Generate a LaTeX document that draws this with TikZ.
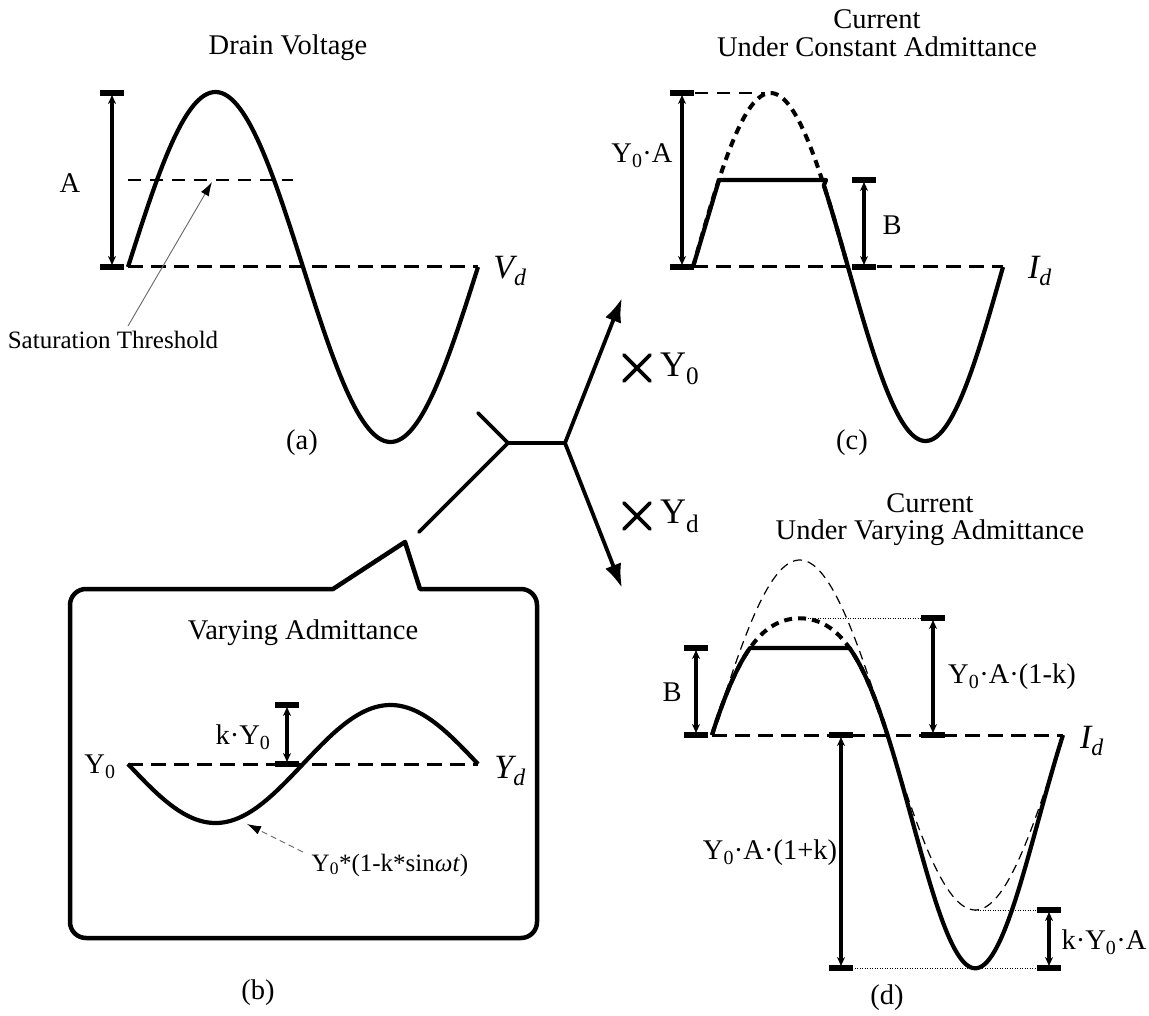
\documentclass[tikz,border=0pt]{standalone}
\usepackage{fontspec}
\setmainfont{Liberation Serif}
\usetikzlibrary{arrows.meta}
\tikzset{
 curve/.style={line width=4.2pt, line join=round},
 axisline/.style={line width=3pt, dash pattern=on 15pt off 8pt},
 thresh/.style={line width=1.2pt, dash pattern=on 13pt off 9pt},
 capline/.style={line width=5.5pt},
 dimline/.style={line width=3.6pt, {Stealth[length=9pt,width=8pt]}-{Stealth[length=9pt,width=8pt]}},
 thickdot/.style={line width=4pt, dash pattern=on 8pt off 6pt},
 thindash/.style={line width=1.2pt, dash pattern=on 9pt off 6pt},
 guide/.style={line width=1pt, dash pattern=on 1pt off 1.5pt},
 lab/.style={font=\fontsize{28.5}{30}\selectfont, inner sep=0pt},
 small/.style={font=\fontsize{25}{27}\selectfont, inner sep=0pt},
 axlab/.style={font=\fontsize{34}{36}\selectfont\itshape, inner sep=0pt},
 bigy/.style={font=\fontsize{36}{38}\selectfont, inner sep=0pt},
 flow/.style={line width=3.8pt, -{Latex[length=24pt,width=17pt]}},
 flowplain/.style={line width=3.8pt, line cap=round},
 cross/.style={line width=3.8pt, line cap=round},
 pointer/.style={line width=0.9pt, draw=black!60, -{Latex[length=14pt,width=9pt,black]}},
 box/.style={line width=4.5pt, line join=round},
}
\newcommand{\mydim}[3]{%
 \draw[capline] ({#1-12},#2) -- ({#1+12},#2);
 \draw[capline] ({#1-12},#3) -- ({#1+12},#3);
 \draw[dimline] (#1,{#2+2}) -- (#1,{#3-2});}
\begin{document}
\begin{tikzpicture}[x=1pt,y=-1pt]
\useasboundingbox (0,0) rectangle (1149,1016);
% ---------- (a) ----------
\node[lab] (ta) at (288,48) {Drain Voltage};
\draw[axisline] (128,267) -- (478,267);
\draw[thresh] (128,180) -- (293,180);
\draw[curve] plot[domain=0:360,samples=120] ({128+\x/360*350},{267-175*sin(\x)});
\mydim{112}{93}{267}
\node[lab] (la) at (70,183) {A};
\node[axlab] (vd) at (510,271) {V\textsubscript{d}};
\node[small] (sat) at (113,340) {Saturation Threshold};
\coordinate (sattail) at (128,326);
\coordinate (satpt) at (212,182);
\draw[pointer] (sattail) -- (satpt);
\node[lab] (capa) at (302,443) {(a)};
% ---------- (c) ----------
\node[lab] (tc1) at (877,19) {Current};
\node[lab] (tc2) at (877,47) {Under Constant Admittance};
\draw[axisline] (693,267) -- (1003,267);
\draw[thresh] (695,93) -- (765,93);
\draw[thickdot] plot[domain=0:180,samples=80] ({693+\x/360*310},{267-174*sin(\x)});
\draw[curve] (693,267) -- (719,180) -- (826,180) -- plot[domain=152:360,samples=100] ({693+\x/360*310},{267-174*sin(\x)});
\mydim{682}{93}{267}
\mydim{864}{180}{267}
\node[lab] (lya) at (642,156) {Y\textsubscript{0}·A};
\node[lab] (lb) at (892,225) {B};
\node[axlab] (idc) at (1040,271) {I\textsubscript{d}};
\node[lab] (capc) at (852,443) {(c)};
% ---------- centre connectors ----------
\coordinate (jl) at (508,443);
\coordinate (jr) at (565,443);
\coordinate (stub) at (478,413);
\coordinate (tail) at (419,532);
\coordinate (up) at (622,298);
\coordinate (down) at (622,588);
\draw[flowplain] (tail) -- (jl) -- (jr);
\draw[flowplain] (stub) -- (jl);
\draw[flow] (jr) -- (up);
\draw[flow] (jr) -- (down);
\draw[cross] (624,355) -- (650,381) (624,381) -- (650,355);
\node[bigy, anchor=west] (ty0) at (660,369) {Y\textsubscript{0}};
\draw[cross] (624,503) -- (650,529) (624,529) -- (650,503);
\node[bigy, anchor=west] (tyd) at (660,516) {Y\textsubscript{d}};
% ---------- (b) ----------
\draw[box] (333,589) -- (405,542) -- (420,589) {[rounded corners=16pt] -- (537,589) -- (537,938) -- (70,938) -- (70,589)} -- cycle;
\node[lab] (tb) at (303,633) {Varying Admittance};
\draw[axisline] (128,764) -- (478,764);
\draw[curve] plot[domain=0:360,samples=120] ({128+\x/360*350},{764+59*sin(\x)});
\mydim{287}{705}{764}
\node[lab] (lky) at (243,737) {k·Y\textsubscript{0}};
\node[lab] (ly0) at (100,767) {Y\textsubscript{0}};
\node[axlab] (yd) at (510,771) {Y\textsubscript{d}};
\coordinate (ftail) at (303,852);
\coordinate (fpt) at (247,824);
\draw[pointer, dash pattern=on 6pt off 4pt] (ftail) -- (fpt);
\node[small] (form) at (390,865) {Y\textsubscript{0}*(1-k*sin\textit{ωt})};
\node[lab] (capb) at (258,993) {(b)};
% ---------- (d) ----------
\node[lab] (td1) at (930,503) {Current};
\node[lab] (td2) at (930,533) {Under Varying Admittance};
\draw[axisline] (712,735) -- (1063,735);
\draw[thindash] plot[domain=0:360,samples=140] ({712+\x/360*351},{735-175*sin(\x)});
\draw[thickdot] plot[domain=0:180,samples=80] ({712+\x/360*351},{735-175*(sin(\x)-0.333*sin(\x)*sin(\x))});
\draw[curve] plot[domain=0:38.9,samples=20] ({712+\x/360*351},{735-175*(sin(\x)-0.333*sin(\x)*sin(\x))})
  -- plot[domain=141.1:360,samples=110] ({712+\x/360*351},{735-175*(sin(\x)-0.333*sin(\x)*sin(\x))});
\draw[guide] (800,618) -- (921,618);
\draw[guide] (852,968) -- (1037,968);
\draw[guide] (975,910) -- (1037,910);
\mydim{696}{648}{735}
\mydim{933}{618}{735}
\mydim{841}{735}{968}
\mydim{1049}{910}{968}
\node[lab] (ldb) at (672,692) {B};
\node[lab] (lm) at (1012,677) {Y\textsubscript{0}·A·(1-k)};
\node[lab] (lp) at (770,853) {Y\textsubscript{0}·A·(1+k)};
\node[lab] (lk) at (1104,942) {k·Y\textsubscript{0}·A};
\node[axlab] (idd) at (1092,741) {I\textsubscript{d}};
\node[lab] (capd) at (887,998) {(d)};
\end{tikzpicture}
\end{document}
